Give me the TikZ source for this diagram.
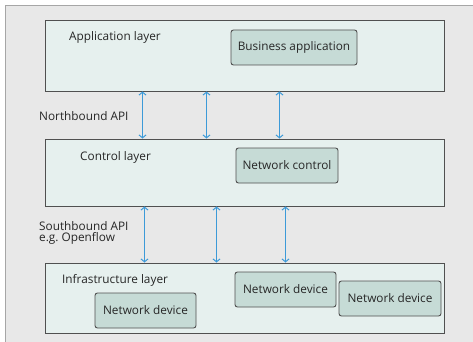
\documentclass[tikz,border=0pt]{standalone}
\usepackage{fontspec}
\setmainfont{Open Sans}
\usetikzlibrary{arrows.meta}
\definecolor{panelbg}{HTML}{E8E8E8}
\definecolor{layerbg}{HTML}{E6F0EE}
\definecolor{devbg}{HTML}{C6DBD6}
\definecolor{edge}{HTML}{505050}
\definecolor{txt}{HTML}{262626}
\definecolor{arrowc}{HTML}{3C9AD8}
\tikzset{
  layer/.style={draw=edge, line width=0.9pt, fill=layerbg, rectangle, inner sep=0pt},
  dev/.style={draw=edge, line width=0.9pt, fill=devbg, rectangle, rounded corners=2.5pt, inner sep=0pt, text=txt, font=\fontsize{11.8}{13}\selectfont},
  lbl/.style={font=\fontsize{11.8}{13}\selectfont, text=txt, inner sep=0pt, anchor=west},
  api/.style={arrowc, line width=1pt, {Straight Barb[length=3pt,width=7pt]}-{Straight Barb[length=3pt,width=7pt]}}
}
\begin{document}
\begin{tikzpicture}[x=1pt,y=-1pt]
\useasboundingbox (0,0) rectangle (473,342);
\fill[white] (0,0) rectangle (473,342);
\draw[fill=panelbg, draw=gray!70, line width=0.8pt] (5.5,5.5) rectangle (480,350);
% layers
\node[layer, minimum width=399pt, minimum height=71pt] (app) at (244.5,55.5) {};
\node[layer, minimum width=399pt, minimum height=67pt] (ctrl) at (244.5,172.5) {};
\node[layer, minimum width=399pt, minimum height=70pt] (infra) at (244.5,298) {};
% layer labels
\node[lbl] (applbl) at (69,37) {Application layer};
\node[lbl] (ctrllbl) at (80,157) {Control layer};
\node[lbl] (infralbl) at (62,280) {Infrastructure layer};
\node[lbl] (nb) at (39,116) {Northbound API};
\node[lbl, align=left, font=\fontsize{11.8}{10.5}\selectfont] (sb) at (39,233) {Southbound API\\e.g.\ Openflow};
% boxes
\node[dev, minimum width=126pt, minimum height=35pt] (bus) at (294,47.5) {Business application};
\node[dev, minimum width=102pt, minimum height=35pt] (nc) at (287,165.5) {Network control};
\node[dev, minimum width=101pt, minimum height=35pt] (d1) at (145.5,310.5) {Network device};
\node[dev, minimum width=101pt, minimum height=35pt] (d2) at (285.5,289.5) {Network device};
\node[dev, minimum width=102pt, minimum height=35pt] (d3) at (390,298.5) {Network device};
% arrow x positions
\coordinate (n1) at (142.5,0);
\coordinate (n2) at (206.5,0);
\coordinate (n3) at (279.5,0);
\coordinate (s1) at (144.5,0);
\coordinate (s2) at (216.5,0);
\coordinate (s3) at (285.5,0);
\draw[api] (app.south -| n1) -- (ctrl.north -| n1);
\draw[api] (app.south -| n2) -- (ctrl.north -| n2);
\draw[api] (app.south -| n3) -- (ctrl.north -| n3);
\draw[api] (ctrl.south -| s1) -- (infra.north -| s1);
\draw[api] (ctrl.south -| s2) -- (infra.north -| s2);
\draw[api] (ctrl.south -| s3) -- (infra.north -| s3);
\end{tikzpicture}
\end{document}
